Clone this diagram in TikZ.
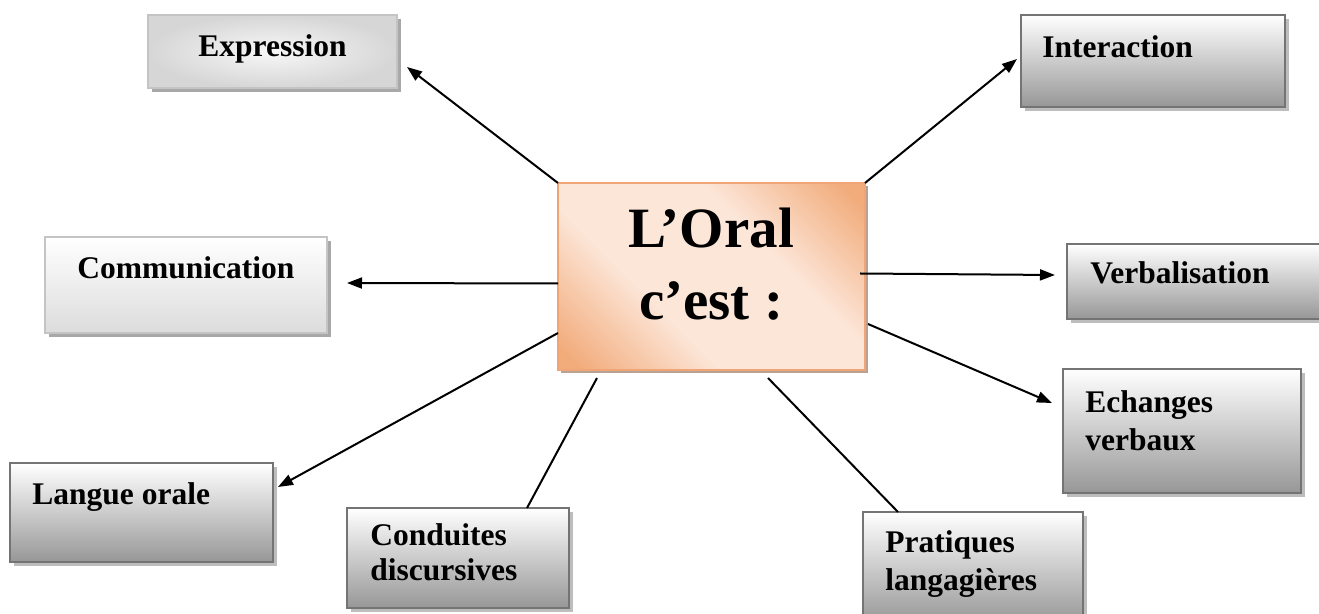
\documentclass[tikz,border=0pt]{standalone}
\usepackage{fontspec}
\setmainfont{Liberation Serif}
\usetikzlibrary{shadows,arrows.meta,calc}
\definecolor{grayborder}{HTML}{747474}
\definecolor{graybot}{HTML}{979797}
\definecolor{grayshadow}{HTML}{BDBDBD}
\definecolor{lightborder}{HTML}{C4C4C4}
\definecolor{lightshadow}{HTML}{A8A8A8}
\definecolor{lightbot}{HTML}{DCDCDC}
\definecolor{orangedark}{HTML}{F2AC7C}
\definecolor{orangelight}{HTML}{FCE6D8}
\definecolor{orangeborder}{HTML}{EFA576}
\definecolor{orangeshadow}{HTML}{B9A293}
\pgfdeclareverticalshading{oralshade}{100bp}{color(0bp)=(orangedark); color(18bp)=(orangedark); color(38bp)=(orangelight); color(62bp)=(orangelight); color(82bp)=(orangedark); color(100bp)=(orangedark)}
\begin{document}
\begin{tikzpicture}[x=0.5pt,y=-0.5pt,
  basebox/.style={inner sep=0pt, outer sep=0pt, anchor=north west},
  graybox/.style={basebox, draw=grayborder, line width=1.2pt, top color=white, bottom color=graybot,
    drop shadow={shadow xshift=2pt, shadow yshift=-2pt, fill=grayshadow, opacity=1}},
  lightbox/.style={basebox, draw=lightborder, line width=0.8pt,
    drop shadow={shadow xshift=2pt, shadow yshift=-2pt, fill=lightshadow, opacity=1}},
  centerbox/.style={basebox, draw=orangeborder, line width=0.8pt,
    shading=oralshade, shading angle=-45,
    drop shadow={shadow xshift=1.6pt, shadow yshift=-1.6pt, fill=orangeshadow, opacity=1}},
  txt/.style={font=\bfseries\fontsize{15.75pt}{19pt}\selectfont, inner sep=0pt, anchor=base west},
  bigtxt/.style={font=\bfseries\fontsize{28.5pt}{34pt}\selectfont, inner sep=0pt, anchor=base},
  arr/.style={line width=1pt, -{Triangle[length=7.5pt,width=5.5pt]}},
  ln/.style={line width=1pt}]
\clip (0,0) rectangle (1319,614);

% boxes
\node[lightbox, shading=radial, inner color=white!94!gray, outer color=gray!32,
      minimum width=124.5pt, minimum height=36.5pt] (expr) at (148,15) {};
\node[graybox, minimum width=132pt, minimum height=46pt] (inter) at (1021,15) {};
\node[lightbox, top color=white, bottom color=lightbot,
      minimum width=141pt, minimum height=48pt] (comm) at (45,237) {};
\node[graybox, minimum width=138pt, minimum height=37.5pt] (verb) at (1067,244) {};
\node[graybox, minimum width=119pt, minimum height=62pt] (ech) at (1063,369) {};
\node[graybox, minimum width=131.5pt, minimum height=49.5pt] (lang) at (10,463) {};
\node[graybox, minimum width=111pt, minimum height=50pt] (cond) at (347,508) {};
\node[graybox, minimum width=110pt, minimum height=56pt] (prat) at (863,512) {};
\node[centerbox, minimum width=153.5pt, minimum height=93.5pt] (c) at (558,183) {};

% texts
\node[txt] (tExpr) at (198,57) {Expression};
\node[txt] (tInter) at (1042,58) {Interaction};
\node[txt] (tComm) at (77,279) {Communication};
\node[txt] (tVerb) at (1090,284) {Verbalisation};
\node[txt] (tEch1) at (1085,413) {Echanges};
\node[txt] (tEch2) at (1085,451) {verbaux};
\node[txt] (tLang) at (32,505) {Langue orale};
\node[txt] (tCond1) at (370,546) {Conduites};
\node[txt] (tCond2) at (370,581) {discursives};
\node[txt] (tPrat1) at (885,553) {Pratiques};
\node[txt] (tPrat2) at (885,591) {langagières};
\node[bigtxt] (tC1) at (711,248) {L’Oral};
\node[bigtxt] (tC2) at (711,320) {c’est :};

% connectors
\draw[arr] (c.north west) -- ($(expr.south east)+(10,-21)$);
\draw[arr] (c.north east) -- ($(inter.north west)+(-4,44)$);
\draw[arr] ($(c.west)+(0,7)$) -- ($(comm.east)+(20,-2)$);
\draw[arr] ($(c.east)+(-5,-3)$) -- ($(verb.north west)+(-12,31)$);
\draw[arr] ($(c.south east)+(3,-46)$) -- ($(ech.north west)+(-11,34)$);
\draw[arr] ($(c.south west)+(0,-37)$) -- ($(lang.north east)+(5,24)$);
\draw[ln] ($(c.south west)+(39,8)$) -- ($(cond.north east)+(-42,0)$);
\draw[ln] ($(c.south west)+(210,8)$) -- ($(prat.north west)+(35,0)$);
\end{tikzpicture}
\end{document}
